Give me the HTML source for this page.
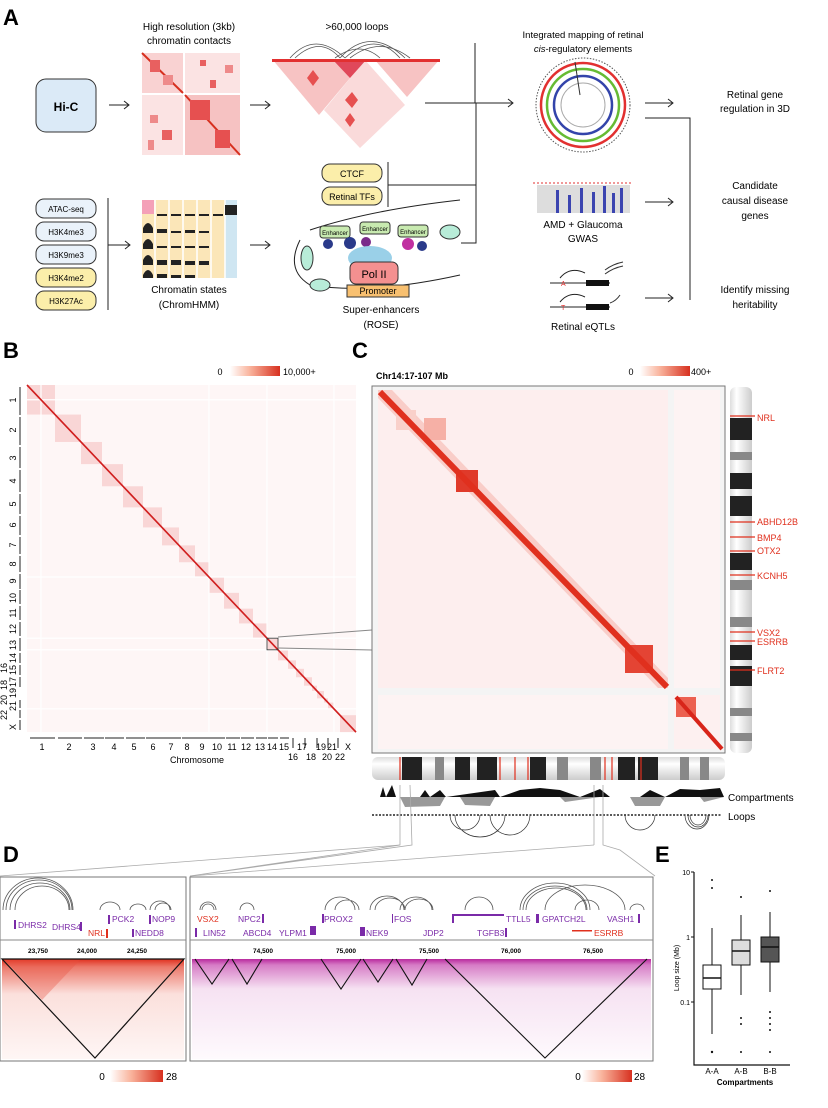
<!DOCTYPE html>
<html><head><meta charset="utf-8"><style>
html,body{margin:0;padding:0;background:#fff}
svg{display:block;font-family:"Liberation Sans",Arial,sans-serif}
</style></head><body>
<svg width="828" height="1108" viewBox="0 0 828 1108" xmlns="http://www.w3.org/2000/svg">
<defs>
<linearGradient id="cb" x1="0" x2="1"><stop offset="0" stop-color="#fff"/><stop offset="0.4" stop-color="#f9b39c"/><stop offset="1" stop-color="#d7301f"/></linearGradient>
<linearGradient id="bandR" x1="0" y1="0" x2="0" y2="1"><stop offset="0" stop-color="#e0301e"/><stop offset="0.08" stop-color="#ec7a6c"/><stop offset="0.35" stop-color="#fbe0dc"/><stop offset="1" stop-color="#fef6f5"/></linearGradient>
<linearGradient id="bandM" x1="0" y1="0" x2="0" y2="1"><stop offset="0" stop-color="#b82a9e"/><stop offset="0.06" stop-color="#d67cc6"/><stop offset="0.3" stop-color="#f6e2f2"/><stop offset="1" stop-color="#fefafd"/></linearGradient>
<linearGradient id="idh" x1="0" y1="0" x2="0" y2="1"><stop offset="0" stop-color="#ddd"/><stop offset="0.3" stop-color="#fff"/><stop offset="1" stop-color="#ccc"/></linearGradient>
<linearGradient id="idv" x1="0" y1="0" x2="1" y2="0"><stop offset="0" stop-color="#ddd"/><stop offset="0.3" stop-color="#fff"/><stop offset="1" stop-color="#ccc"/></linearGradient>
</defs>

<!-- ===== Panel A ===== -->
<text x="3" y="25" font-size="22" font-weight="bold">A</text>
<text x="189" y="30" font-size="10" text-anchor="middle">High resolution (3kb)</text>
<text x="189" y="44" font-size="10" text-anchor="middle">chromatin contacts</text>
<rect x="36" y="79" width="60" height="53" rx="10" fill="#dbeaf7" stroke="#333"/>
<text x="66" y="111" font-size="12" font-weight="bold" text-anchor="middle">Hi-C</text>
<path d="M109 105h20m-5-4l5 4-5 4" stroke="#222" fill="none"/>
<g>
<rect x="142" y="53" width="41" height="40" fill="#f9d2d2"/><rect x="185" y="53" width="55" height="40" fill="#fbe3e3"/>
<rect x="142" y="95" width="41" height="60" fill="#fbe3e3"/><rect x="185" y="95" width="55" height="60" fill="#f6c2c2"/>
<path d="M142 53L183 93" stroke="#d7301f" stroke-width="2"/><path d="M185 95L240 155" stroke="#d7301f" stroke-width="2"/>
<rect x="150" y="60" width="10" height="12" fill="#e86060"/><rect x="163" y="75" width="10" height="10" fill="#ee8a8a"/>
<rect x="190" y="100" width="20" height="20" fill="#e65050"/><rect x="215" y="130" width="15" height="18" fill="#e65050"/>
<rect x="200" y="60" width="6" height="6" fill="#e86060"/><rect x="225" y="65" width="8" height="8" fill="#ee8a8a"/><rect x="210" y="80" width="6" height="8" fill="#e86060"/>
<rect x="150" y="115" width="8" height="8" fill="#ee8a8a"/><rect x="162" y="130" width="10" height="10" fill="#e86060"/><rect x="148" y="140" width="6" height="10" fill="#ee8a8a"/>
</g>
<path d="M250 105h20m-5-4l5 4-5 4" stroke="#222" fill="none"/>
<text x="357" y="30" font-size="10" text-anchor="middle">&gt;60,000 loops</text>
<g fill="none" stroke="#555" stroke-width="0.8">
<path d="M290 58Q315 30 345 58"/><path d="M295 58Q320 35 340 58"/><path d="M340 58Q370 25 405 58"/><path d="M345 58Q375 30 400 58"/><path d="M350 58Q380 35 410 58"/><path d="M335 58Q360 40 380 58"/>
</g>
<polygon points="272,59 366,59 319,115" fill="#f7c3c3"/>
<polygon points="374,59 440,59 407,97" fill="#f7c3c3"/>
<polygon points="324,110 365,60 405,105 360,148" fill="#fadada"/>
<polygon points="333,60 366,60 350,78" fill="#e0485a"/>
<rect x="272" y="59" width="168" height="3" fill="#e23030"/>
<polygon points="307,78 313,70 319,78 313,86" fill="#e65050"/><polygon points="345,100 352,92 358,100 352,108" fill="#e65050"/><polygon points="345,120 350,113 355,120 350,127" fill="#e65050"/>
<path d="M425 103h50v-60" stroke="#222" fill="none"/>
<path d="M425 103h88m-5-4l5 4-5 4" stroke="#222" fill="none"/>
<text x="583" y="38" font-size="9.5" text-anchor="middle">Integrated mapping of retinal</text>
<text x="583" y="52" font-size="9.5" text-anchor="middle"><tspan font-style="italic">cis</tspan>-regulatory elements</text>
<g fill="none">
<circle cx="583" cy="105" r="47" stroke="#555" stroke-dasharray="1.5 1.5"/>
<circle cx="583" cy="105" r="42" stroke="#e23030" stroke-width="2.5"/>
<circle cx="583" cy="105" r="36" stroke="#66bb33" stroke-width="2.5"/>
<circle cx="583" cy="105" r="29" stroke="#3344aa" stroke-width="2.5"/>
<circle cx="583" cy="105" r="22" stroke="#aaa" stroke-width="1"/>
<path d="M575 62L580 95" stroke="#333"/>
</g>
<path d="M645 103h28m-5-4l5 4-5 4" stroke="#222" fill="none"/>
<path d="M645 118h45v182" stroke="#222" fill="none"/>
<text x="755" y="98" font-size="10" text-anchor="middle">Retinal gene</text>
<text x="755" y="112" font-size="10" text-anchor="middle">regulation in 3D</text>
<rect x="322" y="164" width="60" height="18" rx="8" fill="#fbeeaa" stroke="#333"/><text x="352" y="177" font-size="9" text-anchor="middle">CTCF</text>
<rect x="322" y="187" width="60" height="18" rx="8" fill="#fbeeaa" stroke="#333"/><text x="352" y="200" font-size="9" text-anchor="middle">Retinal TFs</text>
<path d="M388 162v45M388 185h88" stroke="#222" fill="none"/>
<path d="M476 103v140h-15" stroke="#222" fill="none"/>
<rect x="537" y="185" width="93" height="28" fill="#ddd"/>
<g fill="#3b44b0"><rect x="556" y="190" width="3" height="23"/><rect x="568" y="195" width="3" height="18"/><rect x="580" y="188" width="3" height="25"/><rect x="592" y="192" width="3" height="21"/><rect x="603" y="186" width="3" height="27"/><rect x="612" y="193" width="3" height="20"/><rect x="620" y="188" width="3" height="25"/></g>
<path d="M533 183h100" stroke="#e23030" stroke-dasharray="2 2"/>
<text x="583" y="228" font-size="10" text-anchor="middle">AMD + Glaucoma</text>
<text x="583" y="242" font-size="10" text-anchor="middle">GWAS</text>
<path d="M645 202h28m-5-4l5 4-5 4" stroke="#222" fill="none"/>
<text x="755" y="189" font-size="10" text-anchor="middle">Candidate</text>
<text x="755" y="204" font-size="10" text-anchor="middle">causal disease</text>
<text x="755" y="219" font-size="10" text-anchor="middle">genes</text>
<path d="M550 283h60M550 307h60" stroke="#222"/>
<rect x="586" y="280" width="23" height="6" fill="#111"/><rect x="586" y="304" width="23" height="6" fill="#111"/>
<path d="M560 278q10-12 25-5M560 302q10-12 25-5" stroke="#222" fill="none"/>
<text x="561" y="286" font-size="7" fill="#e23030">A</text><text x="561" y="310" font-size="7" fill="#e23030">T</text>
<path d="M605 270q8-6 18-8M605 274q8-6 18-8M610 303q6-2 10-8" stroke="#333" fill="none"/>
<text x="583" y="330" font-size="10" text-anchor="middle">Retinal eQTLs</text>
<path d="M645 298h28m-5-4l5 4-5 4" stroke="#222" fill="none"/>
<text x="755" y="293" font-size="10" text-anchor="middle">Identify missing</text>
<text x="755" y="308" font-size="10" text-anchor="middle">heritability</text>
<g font-size="8" text-anchor="middle">
<rect x="36" y="199" width="60" height="19" rx="8" fill="#eaf2fa" stroke="#333"/><text x="66" y="212">ATAC-seq</text>
<rect x="36" y="222" width="60" height="19" rx="8" fill="#eaf2fa" stroke="#333"/><text x="66" y="235">H3K4me3</text>
<rect x="36" y="245" width="60" height="19" rx="8" fill="#eaf2fa" stroke="#333"/><text x="66" y="258">H3K9me3</text>
<rect x="36" y="268" width="60" height="19" rx="8" fill="#fbeeaa" stroke="#333"/><text x="66" y="281">H3K4me2</text>
<rect x="36" y="291" width="60" height="19" rx="8" fill="#fbeeaa" stroke="#333"/><text x="66" y="304">H3K27Ac</text>
</g>
<path d="M108 198v112M108 245h22m-5-4l5 4-5 4" stroke="#222" fill="none"/>
<rect x="142" y="200" width="83" height="78" fill="#fbe6b8"/>
<rect x="142" y="200" width="12" height="14" fill="#f4a0b8"/>
<rect x="225" y="200" width="12" height="78" fill="#cfe6f2"/>
<g stroke="#fff" stroke-width="1.5"><path d="M155 200v78M169 200v78M183 200v78M197 200v78M211 200v78M225 200v78"/></g>
<g fill="#222"><rect x="225" y="205" width="12" height="10"/>
<path d="M143 228q5-10 10 0v5h-10zM143 244q5-10 10 0v5h-10zM143 260q5-10 10 0v5h-10zM143 275q5-10 10 0v3h-10z"/>
<rect x="157" y="229" width="10" height="4"/><rect x="157" y="260" width="10" height="5"/><rect x="171" y="260" width="10" height="5"/><rect x="157" y="274" width="10" height="4"/>
<rect x="185" y="214" width="10" height="2"/><rect x="199" y="214" width="10" height="2"/><rect x="213" y="214" width="10" height="2"/><rect x="171" y="214" width="10" height="2"/><rect x="157" y="214" width="10" height="2"/>
<rect x="185" y="230" width="10" height="3"/><rect x="199" y="231" width="10" height="2"/><rect x="171" y="231" width="10" height="2"/><rect x="157" y="246" width="10" height="2"/><rect x="171" y="246" width="10" height="2"/><rect x="185" y="246" width="10" height="2"/><rect x="199" y="246" width="10" height="2"/>
<rect x="185" y="261" width="10" height="4"/><rect x="199" y="261" width="10" height="4"/><rect x="171" y="275" width="10" height="3"/><rect x="185" y="275" width="10" height="3"/>
</g>
<text x="189" y="293" font-size="10" text-anchor="middle">Chromatin states</text>
<text x="189" y="308" font-size="10" text-anchor="middle">(ChromHMM)</text>
<path d="M250 245h20m-5-4l5 4-5 4" stroke="#222" fill="none"/>
<path d="M300 240q-15 30 10 45q60 10 150-10M310 230q60-20 150-30" stroke="#222" fill="none"/>
<rect x="320" y="226" width="30" height="12" rx="3" fill="#c8eab0" stroke="#333"/><text x="335" y="235" font-size="6" text-anchor="middle">Enhancer</text>
<rect x="360" y="222" width="30" height="12" rx="3" fill="#c8eab0" stroke="#333"/><text x="375" y="231" font-size="6" text-anchor="middle">Enhancer</text>
<rect x="398" y="225" width="30" height="12" rx="3" fill="#c8eab0" stroke="#333"/><text x="413" y="234" font-size="6" text-anchor="middle">Enhancer</text>
<circle cx="328" cy="244" r="5" fill="#2a3a8a"/><circle cx="350" cy="243" r="6" fill="#2a3a8a"/><circle cx="366" cy="242" r="5" fill="#7a2a8a"/><circle cx="408" cy="244" r="6" fill="#c030a0"/><circle cx="422" cy="246" r="5" fill="#2a3a8a"/>
<ellipse cx="370" cy="258" rx="22" ry="12" fill="#9ad0e8"/>
<rect x="350" y="262" width="48" height="22" rx="6" fill="#f49090" stroke="#333"/><text x="374" y="278" font-size="11" text-anchor="middle">Pol II</text>
<rect x="347" y="285" width="62" height="12" fill="#f8c070" stroke="#333"/><text x="378" y="294" font-size="9" text-anchor="middle">Promoter</text>
<ellipse cx="450" cy="232" rx="10" ry="7" fill="#b8ecd8" stroke="#333"/><ellipse cx="307" cy="258" rx="6" ry="12" fill="#b8ecd8" stroke="#333"/><ellipse cx="320" cy="285" rx="10" ry="6" fill="#b8ecd8" stroke="#333"/>
<text x="381" y="313" font-size="10" text-anchor="middle">Super-enhancers</text>
<text x="381" y="328" font-size="10" text-anchor="middle">(ROSE)</text>

<!-- ===== Panel B ===== -->
<text x="3" y="358" font-size="22" font-weight="bold">B</text>
<text x="220" y="375" font-size="9" text-anchor="middle">0</text>
<rect x="230" y="366" width="50" height="10" fill="url(#cb)"/>
<text x="283" y="375" font-size="9">10,000+</text>
<rect x="27" y="385" width="329" height="347" fill="#fef6f6"/>
<g transform="translate(27,385) scale(1,1.055)">
<g fill="#f9d6d6" stroke="none">
<rect x="0" y="0" width="28" height="28"/><rect x="28" y="28" width="26" height="26"/><rect x="54" y="54" width="21" height="21"/><rect x="75" y="75" width="21" height="21"/><rect x="96" y="96" width="20" height="20"/><rect x="116" y="116" width="19" height="19"/><rect x="135" y="135" width="17" height="17"/><rect x="152" y="152" width="16" height="16"/><rect x="168" y="168" width="14" height="14"/><rect x="182" y="182" width="15" height="15"/><rect x="197" y="197" width="15" height="15"/><rect x="212" y="212" width="14" height="14"/><rect x="226" y="226" width="14" height="14"/><rect x="240" y="240" width="11" height="11"/><rect x="251" y="251" width="10" height="10"/><rect x="261" y="261" width="8" height="8"/><rect x="269" y="269" width="8" height="8"/><rect x="277" y="277" width="8" height="8"/><rect x="285" y="285" width="5" height="5"/><rect x="290" y="290" width="7" height="7"/><rect x="297" y="297" width="4" height="4"/><rect x="301" y="301" width="6" height="6"/><rect x="313" y="313" width="16" height="16"/>
</g>
<g stroke="#fff" stroke-width="1.2"><path d="M14 0v329M0 14h329M182 0v329M0 182h329M240 0v329M0 240h329M0 251h329M307 0v329M0 307h329"/></g>
<path d="M0 0L329 329" stroke="#d01f1f" stroke-width="1.6"/>
<rect x="240" y="240" width="11" height="11" fill="none" stroke="#333" stroke-width="0.8"/>
</g>
<g stroke="#222" stroke-width="1"><path d="M30 738h25M58 738h24M84 738h20M105 738h19M126 738h19M146 738h18M164 738h17M182 738h15M197 738h14M211 738h14M226 738h14M241 738h13M256 738h11M268 738h10M280 738h9M293 738v10M305 738v10M317 738v10M328 738v10M338 738v10"/>
<path d="M20 387v28M20 417v28M20 447v21M20 470v22M20 494v20M20 516v19M20 537v17M20 556v16M20 574v15M20 590v14M20 606v14M20 622v14M20 638v13M20 653v10M20 665v10M20 677v10M20 700v8M20 710v8M20 720v10"/></g>
<g font-size="9" text-anchor="middle">
<text x="42" y="750">1</text><text x="69" y="750">2</text><text x="93" y="750">3</text><text x="114" y="750">4</text><text x="134" y="750">5</text><text x="153" y="750">6</text><text x="171" y="750">7</text><text x="187" y="750">8</text><text x="202" y="750">9</text><text x="217" y="750">10</text><text x="232" y="750">11</text><text x="246" y="750">12</text><text x="260" y="750">13</text><text x="272" y="750">14</text><text x="284" y="750">15</text><text x="302" y="750">17</text><text x="321" y="750">19</text><text x="332" y="750">21</text><text x="348" y="750">X</text>
<text x="293" y="760">16</text><text x="311" y="760">18</text><text x="327" y="760">20</text><text x="340" y="760">22</text>
<text x="197" y="763">Chromosome</text>
</g>
<g font-size="9" text-anchor="middle">
<text transform="translate(16,400) rotate(-90)">1</text><text transform="translate(16,430) rotate(-90)">2</text><text transform="translate(16,458) rotate(-90)">3</text><text transform="translate(16,481) rotate(-90)">4</text><text transform="translate(16,504) rotate(-90)">5</text><text transform="translate(16,525) rotate(-90)">6</text><text transform="translate(16,545) rotate(-90)">7</text><text transform="translate(16,564) rotate(-90)">8</text><text transform="translate(16,581) rotate(-90)">9</text><text transform="translate(16,598) rotate(-90)">10</text><text transform="translate(16,613) rotate(-90)">11</text><text transform="translate(16,629) rotate(-90)">12</text><text transform="translate(16,645) rotate(-90)">13</text><text transform="translate(16,658) rotate(-90)">14</text><text transform="translate(16,670) rotate(-90)">15</text><text transform="translate(16,682) rotate(-90)">17</text><text transform="translate(16,693) rotate(-90)">19</text><text transform="translate(16,706) rotate(-90)">21</text><text transform="translate(16,727) rotate(-90)">X</text>
<text transform="translate(7,668) rotate(-90)">16</text><text transform="translate(7,685) rotate(-90)">18</text><text transform="translate(7,700) rotate(-90)">20</text><text transform="translate(7,715) rotate(-90)">22</text>
</g>
<path d="M278 637L372 630M278 648L372 650" stroke="#888" fill="none"/>

<!-- ===== Panel C ===== -->
<text x="352" y="358" font-size="22" font-weight="bold">C</text>
<text x="376" y="379" font-size="9" font-weight="bold">Chr14:17-107 Mb</text>
<text x="631" y="375" font-size="9" text-anchor="middle">0</text>
<rect x="640" y="366" width="50" height="10" fill="url(#cb)"/>
<text x="691" y="375" font-size="9">400+</text>
<rect x="372" y="386" width="353" height="367" fill="#f4f4f4" stroke="#777"/>
<rect x="378" y="390" width="290" height="298" fill="#fdeeee"/>
<rect x="674" y="390" width="46" height="298" fill="#fdf3f3"/>
<rect x="378" y="695" width="290" height="54" fill="#fdf3f3"/>
<rect x="674" y="695" width="46" height="54" fill="#fdf0f0"/>
<polygon points="378,390 392,390 668,678 668,688 658,688 378,398" fill="#f9cdc8"/>
<rect x="396" y="410" width="20" height="20" fill="#f9d0ca"/>
<rect x="456" y="470" width="22" height="22" fill="#e03a2a"/>
<rect x="424" y="418" width="22" height="22" fill="#f6b0a6"/>
<rect x="625" y="645" width="28" height="28" fill="#e44434"/>
<rect x="676" y="697" width="20" height="20" fill="#ec6050"/>
<path d="M380 392L667 687" stroke="#e0301e" stroke-width="6"/>
<path d="M676 697L722 749" stroke="#d8251a" stroke-width="4"/>
<rect x="730" y="387" width="22" height="366" rx="6" fill="url(#idv)"/>
<g fill="#222"><rect x="730" y="418" width="22" height="22"/><rect x="730" y="473" width="22" height="16"/><rect x="730" y="496" width="22" height="20"/><rect x="730" y="553" width="22" height="17"/><rect x="730" y="645" width="22" height="15"/><rect x="730" y="666" width="22" height="20"/></g>
<g fill="#888"><rect x="730" y="452" width="22" height="8"/><rect x="730" y="580" width="22" height="10"/><rect x="730" y="617" width="22" height="10"/><rect x="730" y="708" width="22" height="8"/><rect x="730" y="733" width="22" height="8"/></g>
<g stroke="#e0301e" stroke-width="1.3"><path d="M730 416h25M730 522h25M730 537h25M730 551h25M730 575h25M730 632h25M730 641h25M730 670h25"/></g>
<g font-size="9" fill="#e0301e"><text x="757" y="421">NRL</text><text x="757" y="525">ABHD12B</text><text x="757" y="541">BMP4</text><text x="757" y="554">OTX2</text><text x="757" y="579">KCNH5</text><text x="757" y="636">VSX2</text><text x="757" y="645">ESRRB</text><text x="757" y="674">FLRT2</text></g>
<rect x="372" y="757" width="353" height="23" rx="6" fill="url(#idh)"/>
<g fill="#222"><rect x="402" y="757" width="20" height="23"/><rect x="455" y="757" width="15" height="23"/><rect x="477" y="757" width="20" height="23"/><rect x="530" y="757" width="16" height="23"/><rect x="618" y="757" width="17" height="23"/><rect x="638" y="757" width="20" height="23"/></g>
<g fill="#888"><rect x="435" y="757" width="9" height="23"/><rect x="557" y="757" width="11" height="23"/><rect x="590" y="757" width="11" height="23"/><rect x="680" y="757" width="9" height="23"/><rect x="700" y="757" width="9" height="23"/></g>
<g stroke="#e0301e" stroke-width="1.2"><path d="M400 757v23M500 757v23M515 757v23M528 757v23M605 757v23M612 757v23M641 757v23"/></g>
<path d="M380 797 L383 787 386 797 392 785 396 797 420 797 425 790 430 797 440 790 446 797 495 790 500 797 520 790 540 788 560 790 580 797 600 789 610 797 640 797 650 790 665 797 680 789 700 790 720 788 724 797Z" fill="#111"/>
<path d="M380 797 L400 797 405 807 440 806 445 797 460 797 465 805 490 806 495 797 560 797 565 802 600 797 630 797 635 806 660 806 665 797 700 797 704 802 724 797Z" fill="#999"/>
<text x="728" y="801" font-size="10">Compartments</text>
<text x="728" y="820" font-size="10">Loops</text>
<path d="M372 815h350" stroke="#222" stroke-dasharray="2 1.5" stroke-width="1.5"/>
<g fill="none" stroke="#333" stroke-width="0.7"><path d="M450 815a15 15 0 0 0 30 0M455 815a25 22 0 0 0 50 0M490 815a20 20 0 0 0 40 0M625 815a15 15 0 0 0 30 0M685 815a12 14 0 0 0 24 0M688 815a10 12 0 0 0 20 0M690 815a8 10 0 0 0 16 0"/></g>
<path d="M400 785L400 845 190 876M410 785L412 845 190 876M594 785L594 845M603 785L603 845 620 850 655 876" stroke="#aaa" fill="none" stroke-width="0.8"/>
<path d="M0 876L400 845M190 876L594 845" stroke="#aaa" fill="none" stroke-width="0.8"/>

<!-- ===== Panel D ===== -->
<text x="3" y="862" font-size="22" font-weight="bold">D</text>
<rect x="0" y="877" width="186" height="184" fill="#fff" stroke="#777"/>
<rect x="190" y="877" width="463" height="184" fill="#fff" stroke="#777"/>
<path d="M0 940h186M190 940h463" stroke="#888"/>
<g fill="none" stroke="#555" stroke-width="0.8">
<path d="M3 910a35 32 0 0 1 70 0M6 910a33 30 0 0 1 66 0M10 910a30 27 0 0 1 60 0M15 910a27 24 0 0 1 54 0M100 910a10 8 0 0 1 20 0M130 910a8 6 0 0 1 16 0M150 910a10 9 0 0 1 20 0M155 910a8 7 0 0 1 16 0"/>
<path d="M200 910a8 8 0 0 1 16 0M202 910a6 6 0 0 1 12 0M240 910a7 7 0 0 1 14 0M325 910a15 13 0 0 1 30 0M335 910a12 10 0 0 1 24 0M370 910a17 14 0 0 1 34 0M375 910a15 12 0 0 1 30 0M400 910a16 13 0 0 1 32 0M405 910a14 11 0 0 1 28 0M465 910a14 13 0 0 1 28 0M520 910a35 27 0 0 1 70 0M523 910a32 24 0 0 1 64 0M526 910a30 22 0 0 1 60 0M545 910a40 25 0 0 1 80 0M575 910a12 10 0 0 1 24 0M630 910a7 6 0 0 1 14 0"/>
</g>
<g font-size="8.5">
<text x="18" y="928" fill="#7a2aa8">DHRS2</text><text x="52" y="930" fill="#7a2aa8">DHRS4</text><text x="88" y="936" fill="#e0301e">NRL</text><text x="112" y="922" fill="#7a2aa8">PCK2</text><text x="135" y="936" fill="#7a2aa8">NEDD8</text><text x="152" y="922" fill="#7a2aa8">NOP9</text>
</g>
<g fill="#7a2aa8"><rect x="14" y="920" width="2" height="9"/><rect x="80" y="922" width="2" height="9"/><rect x="108" y="915" width="2" height="9"/><rect x="149" y="915" width="2" height="9"/><rect x="132" y="929" width="2" height="8"/></g>
<rect x="106" y="929" width="2" height="9" fill="#e0301e"/>
<g font-size="8.5" fill="#7a2aa8">
<text x="203" y="936">LIN52</text><text x="238" y="922">NPC2</text><text x="243" y="936">ABCD4</text><text x="279" y="936">YLPM1</text><text x="324" y="922">PROX2</text><text x="366" y="936">NEK9</text><text x="394" y="922">FOS</text><text x="423" y="936">JDP2</text><text x="506" y="922">TTLL5</text><text x="477" y="936">TGFB3</text><text x="542" y="922">GPATCH2L</text><text x="607" y="922">VASH1</text>
</g>
<g font-size="8.5" fill="#e0301e"><text x="197" y="922">VSX2</text><text x="594" y="936">ESRRB</text></g>
<g fill="#7a2aa8"><rect x="195" y="928" width="2" height="9"/><rect x="262" y="914" width="2" height="9"/><rect x="310" y="926" width="6" height="9"/><rect x="322" y="914" width="2" height="9"/><rect x="360" y="927" width="5" height="9"/><rect x="392" y="914" width="1" height="9"/><rect x="452" y="914" width="52" height="2"/><rect x="452" y="914" width="2" height="9"/><rect x="505" y="928" width="2" height="9"/><rect x="536" y="914" width="3" height="9"/><rect x="638" y="914" width="2" height="9"/></g>
<rect x="572" y="930" width="20" height="1.5" fill="#e0301e"/>
<g font-size="6.5" font-weight="bold" text-anchor="middle"><text x="38" y="953">23,750</text><text x="87" y="953">24,000</text><text x="137" y="953">24,250</text><text x="263" y="953">74,500</text><text x="346" y="953">75,000</text><text x="429" y="953">75,500</text><text x="511" y="953">76,000</text><text x="593" y="953">76,500</text></g>
<rect x="2" y="959" width="182" height="100" fill="url(#bandR)"/>
<polygon points="5,960 80,960 42,1000" fill="#e8503e" opacity="0.35"/>
<polygon points="2,959 95,1058 184,959" fill="none" stroke="#111" stroke-width="1.2"/>
<rect x="192" y="959" width="459" height="100" fill="url(#bandM)"/>
<g fill="none" stroke="#111" stroke-width="1.1">
<polyline points="195,959 212,984 229,959"/><polyline points="232,959 247,984 262,959"/><polyline points="321,959 341,989 361,959"/><polyline points="363,959 378,982 393,959"/><polyline points="396,959 412,985 427,959"/><polyline points="445,959 545,1058 647,959"/>
</g>
<g font-size="10" text-anchor="middle"><text x="102" y="1080">0</text><text x="578" y="1080">0</text></g>
<rect x="110" y="1070" width="53" height="12" fill="url(#cb)"/><rect x="582" y="1070" width="50" height="12" fill="url(#cb)"/>
<g font-size="10"><text x="166" y="1080">28</text><text x="634" y="1080">28</text></g>

<!-- ===== Panel E ===== -->
<text x="655" y="862" font-size="22" font-weight="bold">E</text>
<path d="M694 872V1065H790" stroke="#111" fill="none" stroke-width="1.2"/>
<g stroke="#111"><path d="M691 872h3M691 937h3M691 1002h3"/></g>
<g font-size="7" text-anchor="end"><text x="690" y="875">10</text><text x="690" y="940">1</text><text x="690" y="1005">0.1</text></g>
<text transform="translate(679,968) rotate(-90)" font-size="7" text-anchor="middle">Loop size (Mb)</text>
<g stroke="#111" fill="none">
<path d="M712 989v45M712 965v-37"/><rect x="703" y="965" width="18" height="24" fill="#fff"/><path d="M703 978h18" stroke-width="1.6"/>
<path d="M741 940v-25M741 965v30"/><rect x="732" y="940" width="18" height="25" fill="#ddd"/><path d="M732 951h18" stroke-width="1.6"/>
<path d="M770 937v-25M770 962v30"/><rect x="761" y="937" width="18" height="25" fill="#555"/><path d="M761 947h18" stroke-width="1.6"/>
</g>
<g fill="#111"><circle cx="712" cy="880" r="1"/><circle cx="712" cy="888" r="1"/><circle cx="712" cy="1052" r="1.2"/><circle cx="741" cy="897" r="1"/><circle cx="741" cy="1018" r="1"/><circle cx="741" cy="1024" r="1"/><circle cx="741" cy="1052" r="1"/><circle cx="770" cy="891" r="1"/><circle cx="770" cy="1012" r="1"/><circle cx="770" cy="1018" r="1"/><circle cx="770" cy="1024" r="1"/><circle cx="770" cy="1030" r="1"/><circle cx="770" cy="1052" r="1"/></g>
<g font-size="8" text-anchor="middle"><text x="712" y="1074">A-A</text><text x="741" y="1074">A-B</text><text x="770" y="1074">B-B</text><text x="745" y="1085" font-weight="bold">Compartments</text></g>
</svg>
</body></html>
